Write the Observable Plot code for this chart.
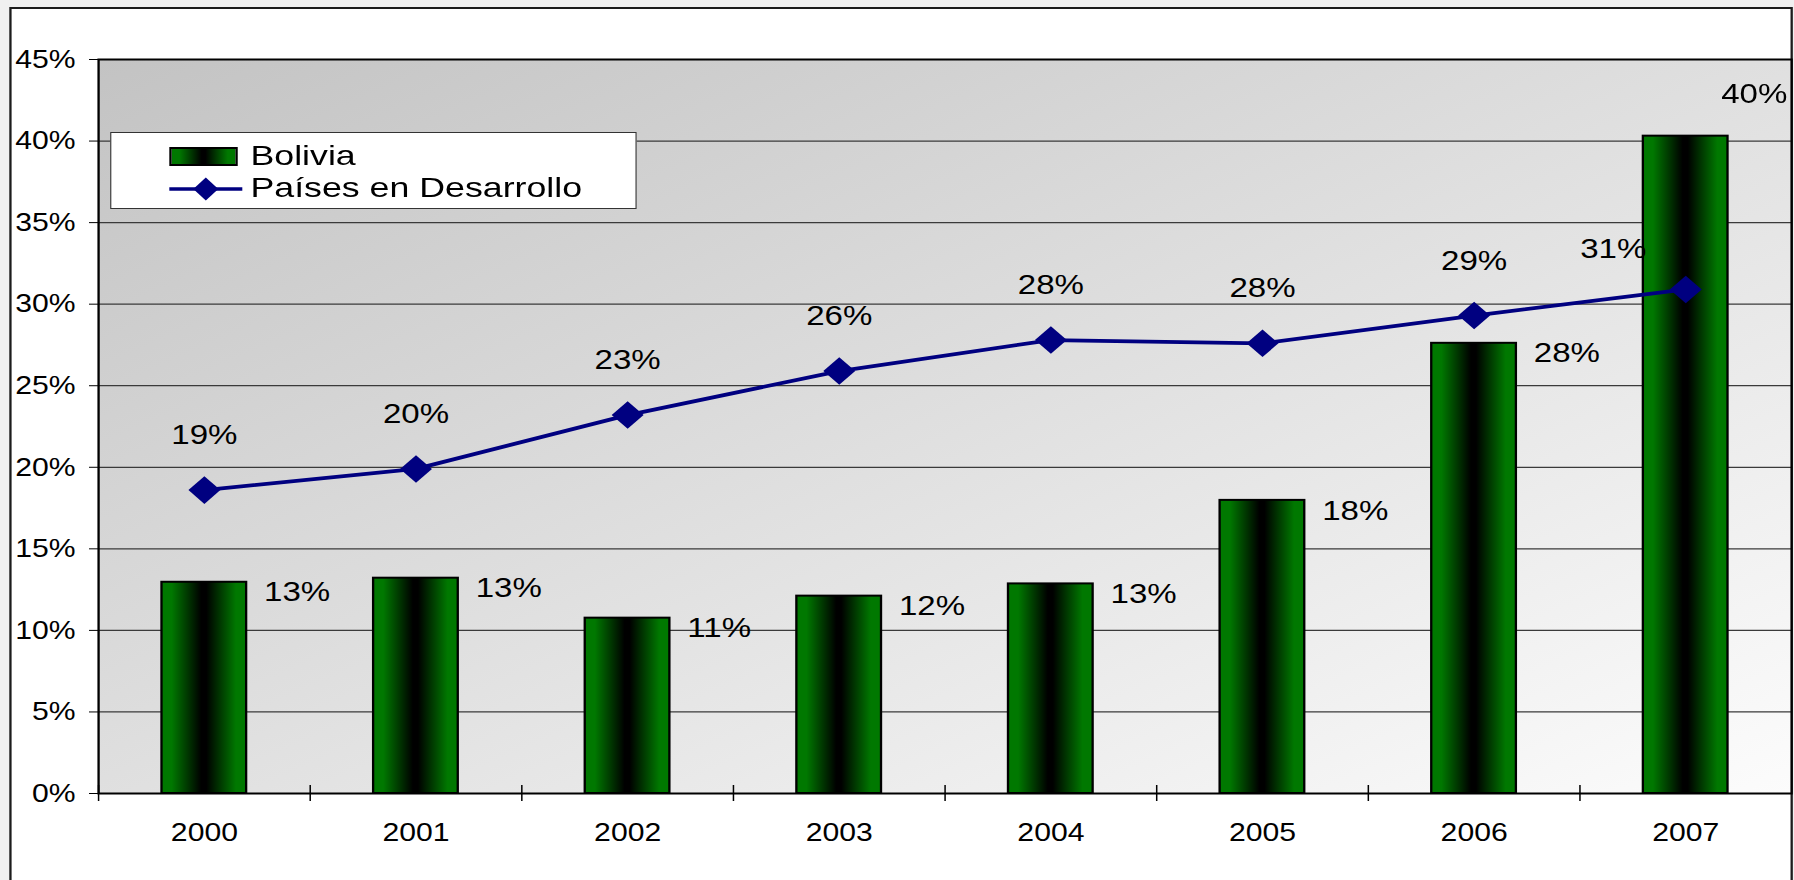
<!DOCTYPE html>
<html>
<head>
<meta charset="utf-8">
<script src="https://cdn.jsdelivr.net/npm/d3@7"></script>
<script src="https://cdn.jsdelivr.net/npm/@observablehq/plot@0.6"></script>
<style>
  html, body { margin: 0; padding: 0; background: #f0f0f0; overflow: hidden; width: 1794px; height: 880px; }
  #stage { position: absolute; left: 0; top: 0; width: 1547px; height: 880px; transform-origin: 0 0; }
  #frame { position: absolute; box-sizing: border-box; border: 2px solid #1c1c1c; background: #fff; }
  #chart { position: absolute; left: 0; top: 0; }
  #legend { position: absolute; box-sizing: border-box; background: #fff; border: 1px solid #333;
            font-family: "Liberation Sans", Arial, sans-serif; font-size: 28px; color: #000; }
  #legend .sw-bar { position: absolute; box-sizing: border-box; border: 2px solid #000;
            background: linear-gradient(to right, #007800 0%, #007800 12%, #000 47%, #000 53%, #007800 88%, #007800 100%); }
  #legend .sw-line { position: absolute; overflow: visible; }
  #legend .lab { position: absolute; line-height: 28px; white-space: nowrap; transform: scaleX(1.1); transform-origin: 0 0; }
</style>
</head>
<body>
<div id="stage">
  <div id="frame"></div>
  <div id="chart"></div>
  <div id="legend"></div>
</div>
<script>
// ---- data ----
const years = ["2000", "2001", "2002", "2003", "2004", "2005", "2006", "2007"];
const bolivia = [12.95, 13.2, 10.75, 12.1, 12.85, 17.97, 27.6, 40.3];
const developing = [18.6, 19.9, 23.2, 25.9, 27.8, 27.6, 29.3, 30.9];
const seriesNames = ["Bolivia", "Países en Desarrollo"];
const yTicks = [0, 5, 10, 15, 20, 25, 30, 35, 40, 45];

const table = years.map((y, i) => ({year: y, bolivia: bolivia[i], dev: developing[i]}));

// ---- layout (SVG drawn at 1547 wide, stretched horizontally to 1794) ----
const W = 1547, H = 880, S = 1794 / W;
const mL = 98 / S, mR = W - 1791 / S, mT = 59, mB = H - 793;
const step = (W - mL - mR) / years.length;
const bw = step * 0.4;

document.getElementById("stage").style.transform = `scaleX(${S})`;
const frame = document.getElementById("frame");
Object.assign(frame.style, {left: (9 / S) + "px", top: "7px", width: ((1793 - 9) / S) + "px", height: "1000px"});

const pct = d => Math.round(d) + "%";
const navy = "#000080";
const barTaller = d => d.bolivia >= d.dev;

const chart = Plot.plot({
  width: W,
  height: H,
  marginLeft: mL,
  marginRight: mR,
  marginTop: mT,
  marginBottom: mB,
  style: {background: "transparent", fontFamily: "'Liberation Sans', Arial, sans-serif", fontSize: "26px", color: "#000", overflow: "visible"},
  x: {type: "band", domain: years, paddingInner: 0.6, paddingOuter: 0.3, round: false, tickSize: 0, tickPadding: 29, label: null},
  y: {domain: [0, 45], ticks: yTicks, tickFormat: d => d + "%", tickSize: 9 / S, tickPadding: 14 / S, label: null},
  marks: [
    Plot.frame({fill: "url(#plotBg)", stroke: "none"}),
    Plot.ruleY(yTicks, {stroke: "#3a3a3a", strokeWidth: 1.2}),
    Plot.barY(table, {x: "year", y: "bolivia", fill: "url(#barGrad)", stroke: "#000", strokeWidth: 2}),
    Plot.line(table, {x: "year", y: "dev", stroke: navy, strokeWidth: 3.8}),
    Plot.dot(table, {x: "year", y: "dev", symbol: "diamond2", r: 12.4, fill: navy, stroke: "none"}),
    // Bolivia labels: right of the bar, or above-right when the bar rises past the line
    Plot.text(table.filter(d => !barTaller(d)), {x: "year", y: "bolivia", text: d => pct(d.bolivia), textAnchor: "start",
                      dx: bw / 2 + 15, dy: 10, fontSize: 28.5, fill: "#000"}),
    Plot.text(table.filter(barTaller), {x: "year", y: "bolivia", text: d => pct(d.bolivia), textAnchor: "start",
                      dx: bw / 2 - 6, dy: -42, fontSize: 28.5, fill: "#000"}),
    // Developing-country labels: above the marker, or upper-left when the bar covers it
    Plot.text(table.filter(d => !barTaller(d)), {x: "year", y: "dev", text: d => pct(d.dev),
                      dy: -55, fontSize: 28.5, fill: "#000"}),
    Plot.text(table.filter(barTaller), {x: "year", y: "dev", text: d => pct(d.dev),
                      textAnchor: "end", dx: -34, dy: -41, fontSize: 28.5, fill: "#000"}),
    Plot.ruleX(years, {x: d => d, dx: -step / 2, y1: 0, y2: 0, insetTop: -8, insetBottom: -8, stroke: "#000", strokeWidth: 1.3}),
    Plot.frame({stroke: "#000", strokeWidth: 2})
  ]
});

// gradients
const svg = d3.select(chart);
const defs = svg.insert("defs", ":first-child");
const bg = defs.append("linearGradient").attr("id", "plotBg")
  .attr("x1", 0).attr("y1", 0).attr("x2", 1).attr("y2", 1);
bg.append("stop").attr("offset", "0%").attr("stop-color", "#c3c3c3");
bg.append("stop").attr("offset", "100%").attr("stop-color", "#fcfcfc");
const bar = defs.append("linearGradient").attr("id", "barGrad")
  .attr("x1", 0).attr("y1", 0).attr("x2", 1).attr("y2", 0);
[[0, "#007800"], [0.12, "#007800"], [0.47, "#000"], [0.53, "#000"], [0.88, "#007800"], [1, "#007800"]]
  .forEach(([o, c]) => bar.append("stop").attr("offset", o).attr("stop-color", c));

document.getElementById("chart").appendChild(chart);

// legend (inside plot area, top-left)
const legend = document.getElementById("legend");
const lx = 110 / S;
Object.assign(legend.style, {left: lx + "px", top: "132px", width: ((637 - 110) / S) + "px", height: "77px"});
const swLeft = 169 / S - lx - 1;
const sb = document.createElement("div");
sb.className = "sw-bar";
Object.assign(sb.style, {left: swLeft + "px", top: "14px", width: (69 / S) + "px", height: "19px"});
legend.appendChild(sb);
const swW = 73 / S;
const sl = document.createElementNS("http://www.w3.org/2000/svg", "svg");
sl.setAttribute("class", "sw-line");
sl.setAttribute("width", swW);
sl.setAttribute("height", 30);
sl.style.left = swLeft + "px";
sl.style.top = "41px";
const hw = 12.5 / S, hh = 11.5, cx = swW / 2;
sl.innerHTML = `<line x1="0" y1="15" x2="${swW}" y2="15" stroke="${navy}" stroke-width="3.5"/>` +
  `<path d="M${cx},${15 - hh}L${cx + hw},15L${cx},${15 + hh}L${cx - hw},15Z" fill="${navy}"/>`;
legend.appendChild(sl);
const labTops = [9.0, 40.6];
seriesNames.forEach((name, i) => {
  const t = document.createElement("div");
  t.className = "lab";
  t.textContent = name;
  t.style.left = (250 / S - lx - 1) + "px";
  t.style.top = labTops[i] + "px";
  legend.appendChild(t);
});
</script>
</body>
</html>
